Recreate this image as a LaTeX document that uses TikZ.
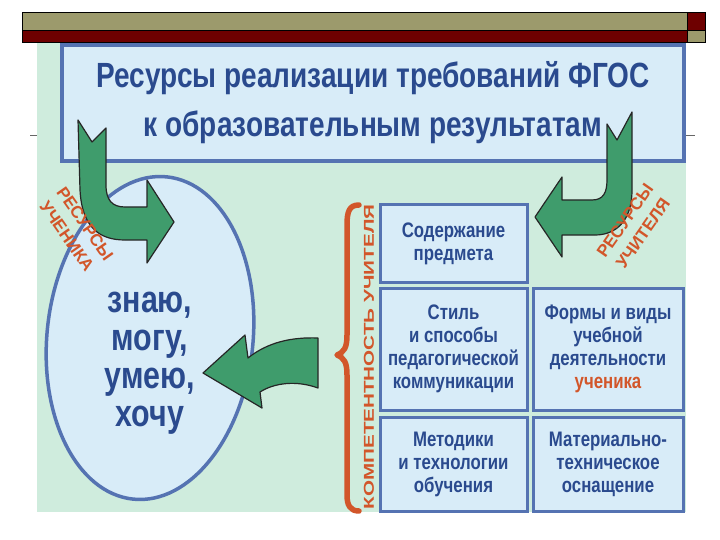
\documentclass[tikz,border=0pt]{standalone}
\usepackage{fontspec}
\setmainfont{Liberation Sans}
\newfontfamily\narrowfont[FakeStretch=0.8]{Liberation Sans}

\definecolor{barolive}{HTML}{9C9A6C}
\definecolor{barred}{HTML}{6E0000}
\definecolor{mintbg}{HTML}{CFECDD}
\definecolor{boxfill}{HTML}{D8ECF8}
\definecolor{boxblue}{HTML}{5573B2}
\definecolor{inkblue}{HTML}{2A4A8E}
\definecolor{arrowgreen}{HTML}{3F9C6C}
\definecolor{rust}{HTML}{D2562A}

\tikzset{
	resbox/.style={draw=boxblue, line width=3pt, fill=boxfill, align=center,
		text=inkblue, inner sep=2pt,
		font=\narrowfont\bfseries\fontsize{21}{23}\selectfont},
	bigarrow/.style={fill=arrowgreen, draw=black!85, line width=1.2pt, line join=round},
	rustlabel/.style={text=rust, align=center, font=\bfseries\fontsize{17}{22}\selectfont}
}

\newcommand{\drawresbox}[6]{   % name, x1, y1, x2, y2, text
	\node[resbox, minimum width={#4pt-#2pt}, minimum height={#5pt-#3pt}]
		(#1) at ({(#2+#4)/2}, {(#3+#5)/2}) {#6};
}

\begin{document}
\begin{tikzpicture}[x=1pt, y=-1pt]
\useasboundingbox (0,0) rectangle (720,540);
\fill[white] (0,0) rectangle (720,540);

% slide head
\draw[black!60, line width=0.6pt] (30,135) -- (695,135);
\filldraw[fill=barolive, draw=black, line width=0.7pt] (22,12) rectangle (687,30);
\filldraw[fill=barred, draw=black, line width=0.7pt] (22,30) rectangle (687,42);
\filldraw[fill=barred, draw=black, line width=0.7pt] (687,12) rectangle (705,30);
\filldraw[fill=barolive, draw=black, line width=0.7pt] (687,30) rectangle (705,42);

\fill[mintbg] (37,43) rectangle (686,512);

% title
\node[draw=boxblue, line width=4pt, fill=boxfill, minimum width=622pt, minimum height=116pt,
	align=center, text=inkblue, font=\narrowfont\bfseries\fontsize{35}{49}\selectfont]
	(title) at (373,103) {Ресурсы реализации требований ФГОС\\к образовательным результатам};

% pupil
\draw[draw=boxblue, line width=3.5pt, fill=boxfill, rotate around={-6:(150,338)}]
	(150,338) ellipse [x radius=103, y radius=162];
\node[text=inkblue, align=center, font=\narrowfont\bfseries\fontsize{38}{38}\selectfont]
	(skills) at (150,363) {знаю,\\могу,\\умею,\\хочу};

% teacher
\drawresbox{content}{380}{205}{527}{282}{Содержание\\предмета};
\drawresbox{style}{380}{288}{527}{410}{Стиль\\и способы\\педагогической\\коммуникации};
\drawresbox{methods}{380}{417}{527}{511}{Методики\\и технологии\\обучения};
\drawresbox{forms}{533}{288}{683}{410}{Формы и виды\\учебной\\деятельности\\\textcolor{rust}{ученика}};
\drawresbox{equip}{533}{417}{683}{511}{Материально-\\техническое\\оснащение};

\draw[rust, line width=5.5pt, line cap=round, line join=round]
	(359,205) .. controls (349,205) and (347,212) .. (347,225) -- (347,335)
	.. controls (347,348) and (344,352) .. (337,355)
	.. controls (344,358) and (347,362) .. (347,375) -- (347,495)
	.. controls (347,505) and (350,511) .. (359,511);
\node[rotate=90, text=rust] (competence) at (369,357)
	{\resizebox{305pt}{10pt}{\bfseries КОМПЕТЕНТНОСТЬ УЧИТЕЛЯ}};

% arrows
\filldraw[bigarrow] (78,120) -- (80,190) .. controls (82,228) and (100,240) .. (125,240)
	-- (147,240) -- (147,263) -- (174,222) -- (147,180) -- (147,207) -- (125,207)
	.. controls (112,207) and (106,200) .. (106,185) -- (106,128) -- (92,142) -- cycle;
\filldraw[bigarrow] (632,112) -- (632,190) .. controls (632,222) and (615,235) .. (595,235)
	-- (562,235) -- (562,257) -- (535,217) -- (562,177) -- (562,200) -- (592,200)
	.. controls (603,200) and (607,193) .. (607,180) -- (607,124) -- (617,140) -- cycle;
\filldraw[bigarrow] (203,373) -- (245,335) -- (248,358)
	.. controls (268,342) and (292,337) .. (318,338) -- (318,388)
	.. controls (296,380) and (274,383) .. (260,392) -- (262,408) -- cycle;

\node[rustlabel, rotate=-55] (pupilres) at (76,230) {РЕСУРСЫ\\УЧЕНИКА};
\node[rustlabel, rotate=55] (teacherres) at (634,227) {РЕСУРСЫ\\УЧИТЕЛЯ};

\end{tikzpicture}
\end{document}
